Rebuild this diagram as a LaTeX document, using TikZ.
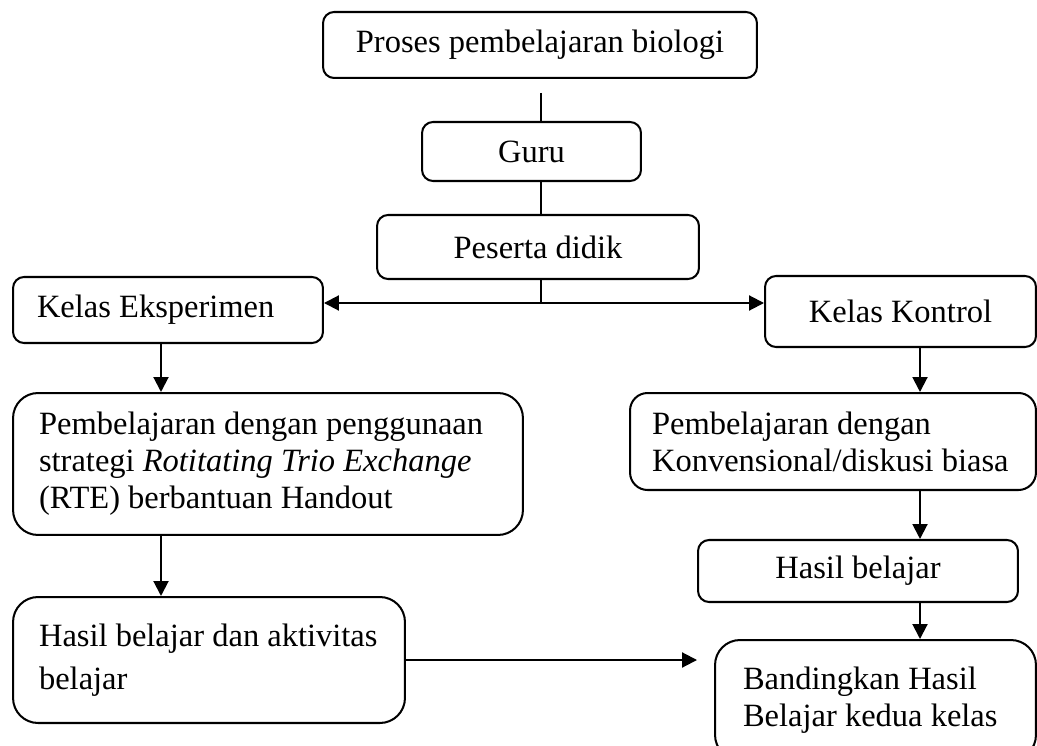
\documentclass[tikz,border=0pt]{standalone}
\usepackage{fontspec}
\setmainfont{Liberation Serif}
\usetikzlibrary{arrows.meta}
\begin{document}
\begin{tikzpicture}[x=0.02cm, y=-0.02cm, line width=1.15pt, >={Triangle[length=0.3cm, width=0.3cm]},
		kotak/.style={draw, rectangle, rounded corners=2.2mm, inner ysep=0pt, font=\fontsize{18.5}{21}\selectfont},
		kotakkiri/.style={kotak, align=flush left, inner xsep=0.5cm},
		kotaktengah/.style={kotak, align=center} ]
		\useasboundingbox (0,0) rectangle (1037,746);
		\node[kotaktengah, minimum width=8.68cm, minimum height=1.32cm] (proses) at (540,45) {Proses pembelajaran biologi};
		\node[kotaktengah, minimum width=4.38cm, minimum height=1.18cm] (guru) at (531.5,151.5) {Guru};
		\node[kotaktengah, minimum width=6.44cm, minimum height=1.28cm] (peserta) at (538,247) {Peserta didik};

		\node[kotakkiri, inner xsep=0.48cm, text width=5.24cm, minimum height=1.32cm] (eksperimen) at (168,310) {Kelas Eksperimen};
		\node[kotaktengah, minimum width=5.42cm, minimum height=1.42cm] (kontrol) at (900.5,311.5) {Kelas Kontrol};

		\node[kotakkiri, rounded corners=5mm, inner xsep=0.52cm, text width=9.16cm, minimum height=2.84cm] (strategi) at (268,464)
			{Pembelajaran dengan penggunaan\\ strategi \textit{Rotitating Trio Exchange}\\ (RTE) berbantuan Handout};
		\node[kotakkiri, rounded corners=3.5mm, inner xsep=0.44cm, text width=7.24cm, minimum height=1.94cm] (konvensional) at (833,441.5)
			{Pembelajaran dengan\\ Konvensional/diskusi biasa};

		\node[kotakkiri, rounded corners=5mm, inner xsep=0.52cm, text width=6.8cm, minimum height=2.52cm] (hasileksp) at (209,660)
			{Hasil belajar dan aktivitas\\[3.5pt] belajar};
		\node[kotaktengah, minimum width=6.4cm, minimum height=1.24cm] (hasilkontrol) at (858,571) {Hasil belajar};
		\node[kotakkiri, rounded corners=5mm, inner xsep=0.56cm, text width=5.3cm, minimum height=2.4cm] (banding) at (875.5,700)
			{Bandingkan Hasil\\ Belajar kedua kelas};

		\coordinate (tengah) at (541,303);
		\coordinate (jalurkiri) at (161,0);
		\coordinate (jalurkanan) at (920,0);

		\draw ([yshift=-0.28cm]proses.south -| tengah) -- (guru.north -| tengah);
		\draw (guru.south -| tengah) -- (peserta.north -| tengah);
		\draw (peserta.south -| tengah) -- (tengah);
		\draw[<->] (eksperimen.east |- tengah) -- (kontrol.west |- tengah);

		\draw (eksperimen.south -| jalurkiri) edge[->] (strategi.north -| jalurkiri);
		\draw (strategi.south -| jalurkiri) edge[->] (hasileksp.north -| jalurkiri);
		\draw (kontrol.south -| jalurkanan) edge[->] (konvensional.north -| jalurkanan);
		\draw (konvensional.south -| jalurkanan) edge[->] (hasilkontrol.north -| jalurkanan);
		\draw (hasilkontrol.south -| jalurkanan) edge[->] (banding.north -| jalurkanan);
		\draw (hasileksp.east) edge[->, shorten >=0.34cm] (banding.west |- hasileksp.east);
	\end{tikzpicture}
\end{document}
